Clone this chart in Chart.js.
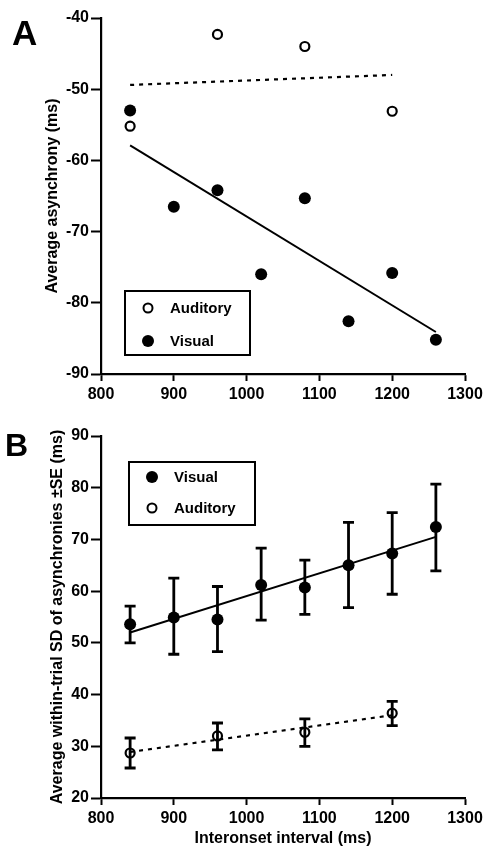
<!DOCTYPE html>
<html>
<head>
<meta charset="utf-8">
<script src="https://cdn.jsdelivr.net/npm/chart.js@4.4.0/dist/chart.umd.min.js"></script>
<style>
  body { margin: 0; background: #fff; }
  .panel { position: absolute; left: 0; width: 488px; height: 424px; }
  .tag { position: absolute; font: bold 35px "Liberation Sans", Arial, sans-serif; color: #000; line-height: 1; }
</style>
</head>
<body>
<div class="panel" style="top:0"><canvas id="chartA" width="488" height="424"></canvas></div>
<div class="panel" style="top:424px"><canvas id="chartB" width="488" height="424"></canvas></div>
<div class="tag" style="left:12px;top:15px">A</div>
<div class="tag" style="left:5px;top:429px;font-size:32px">B</div>
<script>
// interonset intervals (ms)
const ioiVisual = [840, 900, 960, 1020, 1080, 1140, 1200, 1260];
const ioiAuditory = [840, 960, 1080, 1200];
const xTicks = [800, 900, 1000, 1100, 1200, 1300];

// panel A: average asynchrony (ms)
const asyncVisual = [-53.0, -66.5, -64.2, -76.0, -65.3, -82.6, -75.8, -85.2];
const asyncAuditory = [-55.2, -42.3, -44.0, -53.1];
const fitVisualA = [-57.9, -84.1];      // at 840, 1260
const fitAuditoryA = [-49.4, -48.0];    // at 840, 1200
const yTicksA = [-90, -80, -70, -60, -50, -40];

// panel B: within-trial SD (ms) with +/- SE
const sdVisual = [53.6, 54.9, 54.5, 61.2, 60.7, 65.0, 67.3, 72.4];
const sdVisualHigh = [57.1, 62.5, 60.9, 68.3, 66.0, 73.3, 75.2, 80.7];
const sdVisualLow = [50.0, 47.8, 48.3, 54.4, 55.5, 56.8, 59.4, 63.9];
const sdAuditory = [28.7, 32.0, 32.7, 36.4];
const sdAuditoryHigh = [31.6, 34.5, 35.3, 38.7];
const sdAuditoryLow = [25.8, 29.3, 30.0, 34.0];
const fitVisualB = [52.0, 70.5];        // at 840, 1260
const fitAuditoryB = [28.9, 36.0];      // at 840, 1200
const yTicksB = [20, 30, 40, 50, 60, 70, 80, 90];

const fitIoiVisual = [840, 1260];
const fitIoiAuditory = [840, 1200];

const FONT = '"Liberation Sans", Arial, sans-serif';

function pts(xs, ys) {
  return xs.map((x, i) => ({ x: x, y: ys[i] }));
}

// draws vertical +/- SE bars for datasets that carry errLow / errHigh
const errorBars = {
  id: 'errorBars',
  afterDatasetsDraw(chart) {
    const ctx = chart.ctx;
    const xs = chart.scales.x, ys = chart.scales.y;
    ctx.save();
    ctx.strokeStyle = '#000';
    ctx.lineWidth = 2.8;
    chart.data.datasets.forEach(ds => {
      if (!ds.errLow) return;
      ds.data.forEach((p, i) => {
        const x = xs.getPixelForValue(p.x);
        const yl = ys.getPixelForValue(ds.errLow[i]);
        const yh = ys.getPixelForValue(ds.errHigh[i]);
        ctx.beginPath();
        ctx.moveTo(x, yh); ctx.lineTo(x, yl);
        ctx.moveTo(x - 5.5, yh); ctx.lineTo(x + 5.5, yh);
        ctx.moveTo(x - 5.5, yl); ctx.lineTo(x + 5.5, yl);
        ctx.stroke();
      });
    });
    ctx.restore();
  }
};

// boxed legend inside the plot
const boxLegend = {
  id: 'boxLegend',
  afterDraw(chart, args, opts) {
    if (!opts.box) return;
    const ctx = chart.ctx;
    const [l, t, r, b] = opts.box;
    ctx.save();
    ctx.fillStyle = '#fff';
    ctx.fillRect(l, t, r - l, b - t);
    ctx.lineWidth = 2;
    ctx.strokeStyle = '#000';
    ctx.strokeRect(l, t, r - l, b - t);
    ctx.font = 'bold 15px ' + FONT;
    ctx.textBaseline = 'middle';
    opts.rows.forEach(row => {
      const ds = chart.data.datasets[row.ds];
      ctx.beginPath();
      ctx.arc(opts.markerX, row.y, ds.pointRadius, 0, Math.PI * 2);
      if (ds.backgroundColor === '#000') {
        ctx.fillStyle = '#000';
        ctx.fill();
      } else {
        ctx.lineWidth = 2;
        ctx.stroke();
      }
      ctx.fillStyle = '#000';
      ctx.fillText(ds.label, opts.textX, row.y + 1);
    });
    ctx.restore();
  }
};

function xAxis(title) {
  return {
    type: 'linear', min: 800, max: 1300,
    afterBuildTicks: s => { s.ticks = xTicks.map(v => ({ value: v })); },
    afterFit: s => { s.height = 50; },
    ticks: { color: '#000', font: { size: 16, weight: 'bold', family: FONT }, padding: 4, maxRotation: 0,
             callback: v => String(v) },
    grid: { drawOnChartArea: false, tickLength: 7, tickWidth: 2, color: '#000' },
    border: { color: '#000', width: 2.2 },
    title: title ? { display: true, text: title, color: '#000',
                     font: { size: 16, weight: 'bold', family: FONT }, padding: { top: 0, bottom: 0 } }
                 : { display: false }
  };
}

function yAxis(min, max, ticks, title, titlePad) {
  return {
    type: 'linear', min: min, max: max,
    afterBuildTicks: s => { s.ticks = ticks.map(v => ({ value: v })); },
    afterFit: s => { s.width = 101; },
    ticks: { color: '#000', font: { size: 16, weight: 'bold', family: FONT }, padding: 2,
             callback: v => String(v) },
    grid: { drawOnChartArea: false, tickLength: 10, tickWidth: 2, color: '#000' },
    border: { color: '#000', width: 2.2 },
    title: { display: true, text: title, color: '#000',
             font: { size: 16, weight: 'bold', family: FONT }, padding: { top: titlePad, bottom: 0 } }
  };
}

const filled = { pointRadius: 6, pointHoverRadius: 6, backgroundColor: '#000', borderColor: '#000', borderWidth: 0 };
const hollow = { pointRadius: 4.5, pointHoverRadius: 4.5, backgroundColor: 'rgba(0,0,0,0)', borderColor: '#000', borderWidth: 2.2 };

new Chart(document.getElementById('chartA'), {
  type: 'scatter',
  data: {
    datasets: [
      Object.assign({ label: 'Auditory', data: pts(ioiAuditory, asyncAuditory) }, hollow),
      Object.assign({ label: 'Visual', data: pts(ioiVisual, asyncVisual) }, filled),
      { label: 'Auditory fit', data: pts(fitIoiAuditory, fitAuditoryA), showLine: true, pointRadius: 0,
        borderColor: '#000', borderWidth: 2.2, borderDash: [4, 5] },
      { label: 'Visual fit', data: pts(fitIoiVisual, fitVisualA), showLine: true, pointRadius: 0,
        borderColor: '#000', borderWidth: 2 }
    ]
  },
  options: {
    responsive: false, animation: false,
    layout: { padding: { top: 18, right: 23, left: 0, bottom: 0 } },
    scales: { x: xAxis(null), y: yAxis(-90, -40, yTicksA, 'Average asynchrony (ms)', 43) },
    plugins: {
      legend: { display: false }, tooltip: { enabled: false },
      boxLegend: { box: [125, 291, 250, 355], markerX: 148, textX: 170,
                   rows: [{ ds: 0, y: 308 }, { ds: 1, y: 341 }] }
    }
  },
  plugins: [errorBars, boxLegend]
});

new Chart(document.getElementById('chartB'), {
  type: 'scatter',
  data: {
    datasets: [
      Object.assign({ label: 'Visual', data: pts(ioiVisual, sdVisual), errLow: sdVisualLow, errHigh: sdVisualHigh }, filled),
      Object.assign({ label: 'Auditory', data: pts(ioiAuditory, sdAuditory), errLow: sdAuditoryLow, errHigh: sdAuditoryHigh }, hollow),
      { label: 'Visual fit', data: pts(fitIoiVisual, fitVisualB), showLine: true, pointRadius: 0,
        borderColor: '#000', borderWidth: 2 },
      { label: 'Auditory fit', data: pts(fitIoiAuditory, fitAuditoryB), showLine: true, pointRadius: 0,
        borderColor: '#000', borderWidth: 2.2, borderDash: [4, 5] }
    ]
  },
  options: {
    responsive: false, animation: false,
    layout: { padding: { top: 12, right: 23, left: 0, bottom: 0 } },
    scales: { x: xAxis('Interonset interval (ms)'),
              y: yAxis(20, 90, yTicksB, 'Average within-trial SD of asynchronies \u00b1SE (ms)', 48) },
    plugins: {
      legend: { display: false }, tooltip: { enabled: false },
      boxLegend: { box: [129, 462 - 424, 255, 525 - 424], markerX: 152, textX: 174,
                   rows: [{ ds: 0, y: 477 - 424 }, { ds: 1, y: 508 - 424 }] }
    }
  },
  plugins: [errorBars, boxLegend]
});
</script>
</body>
</html>
